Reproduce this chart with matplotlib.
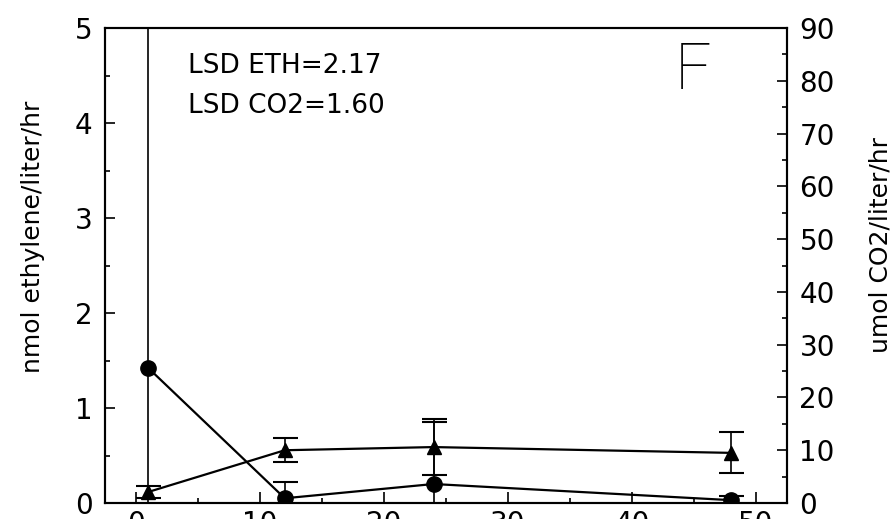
import matplotlib
matplotlib.use('Agg')
import matplotlib.pyplot as plt
from matplotlib.ticker import MultipleLocator

hours = [1, 12, 24, 48]
ethylene = [1.42, 0.05, 0.20, 0.03]      # nmol ethylene/liter/hr (circles)
ethylene_err = [3.8, 0.17, 0.65, 0.04]
co2 = [2.1, 10.0, 10.6, 9.5]             # umol CO2/liter/hr (triangles)
co2_err = [1.1, 2.3, 5.3, 3.9]

x_ticks = [0, 10, 20, 30, 40, 50]
lsd_lines = ["LSD ETH=2.17", "LSD CO2=1.60"]

plt.rcParams['font.family'] = ['DejaVu Sans']

fig = plt.figure(figsize=(8.95, 5.19), dpi=100)
ax = fig.add_axes([0.1173, 0.0308, 0.762, 0.9152])
ax2 = ax.twinx()

ax.errorbar(hours, ethylene, yerr=ethylene_err, color='black', marker='o',
            markersize=11, linewidth=1.6, elinewidth=1.2, capsize=9,
            capthick=1.5, zorder=3)
ax2.errorbar(hours, co2, yerr=co2_err, color='black', marker='^',
             markersize=10, linewidth=1.6, elinewidth=1.2, capsize=9,
             capthick=1.5, zorder=3)

ax.set_xlim(-2.5, 52.5)
ax.set_ylim(0, 5)
ax2.set_ylim(0, 90)

ax.set_xticks(x_ticks)
ax.xaxis.set_minor_locator(MultipleLocator(5))
ax.yaxis.set_major_locator(MultipleLocator(1))
ax.yaxis.set_minor_locator(MultipleLocator(0.5))
ax2.yaxis.set_major_locator(MultipleLocator(10))
ax2.yaxis.set_minor_locator(MultipleLocator(5))

for a in (ax, ax2):
    for s in a.spines.values():
        s.set_linewidth(1.5)
    a.tick_params(which='major', direction='in', length=7, width=1.2,
                  labelsize=20, pad=9)
    a.tick_params(which='minor', direction='in', length=3.5, width=1.2)
ax.tick_params(axis='x', which='major', length=8, pad=5)
ax2.tick_params(axis='y', which='both', left=False, right=True)
ax.tick_params(axis='y', which='both', right=False)

ax.set_ylabel("nmol ethylene/liter/hr", fontsize=18)
ax.yaxis.set_label_coords(-0.088, 0.56)
ax2.set_ylabel("umol CO2/liter/hr", fontsize=18, rotation=90)
ax2.yaxis.set_label_coords(1.12, 0.543)

ax.text(0.122, 0.905, lsd_lines[0], transform=ax.transAxes, fontsize=19)
ax.text(0.122, 0.821, lsd_lines[1], transform=ax.transAxes, fontsize=19)
ax.text(0.836, 0.872, "F", transform=ax.transAxes, fontsize=46,
        fontweight='light', family=['Roboto', 'DejaVu Sans'])

fig.savefig('out.png', dpi=100)
